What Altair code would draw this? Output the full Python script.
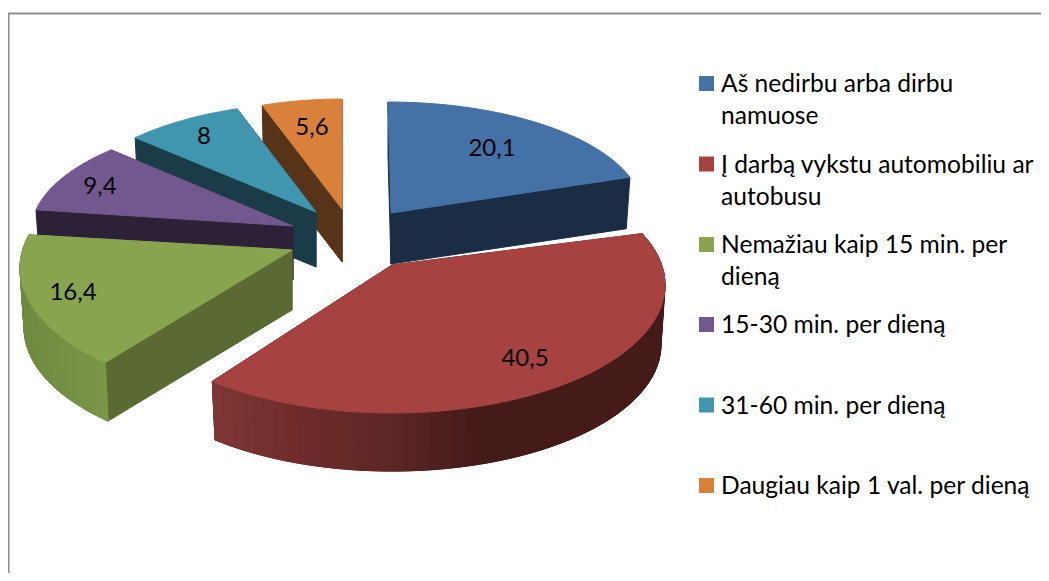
import math
import altair as alt
import pandas as pd

# --- chart values ---
categories = ["Aš nedirbu arba dirbu\nnamuose", "Į darbą vykstu automobiliu ar\nautobusu",
              "Nemažiau kaip 15 min. per\ndieną", "15-30 min. per dieną",
              "31-60 min. per dieną", "Daugiau kaip 1 val. per dieną"]
values = [20.1, 40.5, 16.4, 9.4, 8, 5.6]
value_labels = ["20,1", "40,5", "16,4", "9,4", "8", "5,6"]
top_colors = ["#4471A6", "#A64341", "#89A44E", "#72588E", "#4096AE", "#D9813B"]
face_colors = ["#1B2D45", "#451B19", "#5A6A32", "#2D2138", "#1A3C48", "#573317"]

# --- 3D layout of each slice (screen pixels) ---
apex = [(391, 213), (392, 265), (292, 250), (293, 226), (316, 212), (342, 209)]
centre = [(388, 212), (392, 285), (292, 268), (293, 232), (316, 226), (342, 229)]
radii = [(255, 110), (273, 128), (272, 130), (262, 114), (260, 123), (260, 130)]
skew = [(0, -0.8), (-6, 3), (5.2, 7.6), (4, 5), (4.9, 2.5), (2.3, 0)]
depth = [51, 60, 60, 54, 55, 53]
label_off = [(104, -63), (133, 74), (-219, 25), (-193, -45), (-112, -89), (-30, -101)]
shrink = 0.985
wall_stops = {1: [(214, "#7E3735"), (300, "#6F2D2C"), (400, "#5C2625"), (480, "#451B19"), (670, "#451B19")],
              2: [(20, "#6E8A40"), (110, "#7C9747")]}
draw_order = [5, 4, 3, 0, 2, 1]


def rgb(h):
    return [int(h[i:i + 2], 16) for i in (1, 3, 5)]


def wall_colour(stops, x):
    for (x0, c0), (x1, c1) in zip(stops, stops[1:]):
        if x <= x1:
            u = max(0, (x - x0) / (x1 - x0))
            return "#%02x%02x%02x" % tuple(round(a + (b - a) * u) for a, b in zip(rgb(c0), rgb(c1)))
    return stops[-1][1]


rows = []
fid = 0


def add_face(points, colour):
    global fid
    for i, (x, y) in enumerate(points + points[:1]):
        rows.append({"f": fid, "i": i, "px": x, "py": y, "c": colour})
    fid += 1


cum = [0]
for v in values:
    cum.append(cum[-1] + v * 3.6)

for s in draw_order:
    ax, ay = apex[s]
    cx, cy = centre[s]
    rx, ry = radii[s]
    h = depth[s]
    t0 = cum[s] + skew[s][0]
    t1 = cum[s + 1] + skew[s][1]
    n = 60

    def rim(t, k=1.0, dy=0):
        a = math.radians(t)
        return (cx + k * rx * math.sin(a), cy - k * ry * math.cos(a) + dy)

    ts = [t0 + (t1 - t0) * j / n for j in range(n + 1)]
    # radial faces
    for t in (t0, t1):
        add_face([(ax, ay), rim(t), rim(t, shrink, h), (ax, ay + h)], face_colors[s])
    # outer wall: one solid base, then the shaded bands over it
    if s in wall_stops:
        mid = wall_stops[s][len(wall_stops[s]) // 2][1]
        add_face([rim(t) for t in ts] + [rim(t, shrink, h) for t in reversed(ts)], mid)
        for a, b in zip(ts, ts[1:]):
            q = [rim(a), rim(b), rim(b, shrink, h), rim(a, shrink, h)]
            add_face(q, wall_colour(wall_stops[s], q[0][0]))
    # top
    add_face([(ax, ay)] + [rim(t) for t in ts], top_colors[s])

faces = pd.DataFrame(rows)
X = alt.Scale(domain=[8, 1041], range=[0, 1033])
Y = alt.Scale(domain=[8, 573], range=[0, 565])

pie = alt.Chart(faces).mark_line(strokeWidth=1, interpolate="linear").encode(
    x=alt.X("px:Q", scale=X, axis=None),
    y=alt.Y("py:Q", scale=Y, axis=None),
    detail="f:N",
    order=alt.Order("i:Q"),
    stroke=alt.Stroke("c:N", scale=None),
    fill=alt.Fill("c:N", scale=None),
)

lab_df = pd.DataFrame({"t": value_labels,
                       "px": [centre[i][0] + label_off[i][0] for i in range(6)],
                       "py": [centre[i][1] + label_off[i][1] for i in range(6)]})
value_text = alt.Chart(lab_df).mark_text(font="Lato", fontSize=24, color="#000000").encode(
    x=alt.X("px:Q", scale=X, axis=None), y=alt.Y("py:Q", scale=Y, axis=None), text="t:N")

# --- legend ---
legend_x = 706.5
legend_text_x = 721
legend_base = [91, 171.5, 252, 332, 412.5, 493]
line_gap = 32
leg_sq = pd.DataFrame({"px": [legend_x] * 6, "py": [b - 7.5 for b in legend_base], "c": top_colors})
squares = alt.Chart(leg_sq).mark_square(size=225, opacity=1).encode(
    x=alt.X("px:Q", scale=X, axis=None), y=alt.Y("py:Q", scale=Y, axis=None),
    fill=alt.Fill("c:N", scale=None))
leg_rows = []
for name, b in zip(categories, legend_base):
    for j, line in enumerate(name.split("\n")):
        leg_rows.append({"t": line, "px": legend_text_x, "py": b + 1 + j * line_gap})
legend_text = alt.Chart(pd.DataFrame(leg_rows)).mark_text(
    font="Lato", fontSize=24.6, align="left", baseline="alphabetic", color="#000000").encode(
    x=alt.X("px:Q", scale=X, axis=None), y=alt.Y("py:Q", scale=Y, axis=None), text="t:N")

# --- frame ---
frame_top = alt.Chart(pd.DataFrame({"py": [13.5]})).mark_rule(color="#8E8E8E", strokeWidth=2).encode(
    y=alt.Y("py:Q", scale=Y, axis=None), x=alt.value(0), x2=alt.value(1033))
frame_left = alt.Chart(pd.DataFrame({"px": [8.5]})).mark_rule(color="#8E8E8E", strokeWidth=2).encode(
    x=alt.X("px:Q", scale=X, axis=None), y=alt.value(5), y2=alt.value(565))

chart = alt.layer(frame_top, frame_left, pie, value_text, squares, legend_text).properties(
    width=1033, height=565, padding=0, autosize=alt.AutoSizeParams(type="none")
).configure_view(stroke=None)

chart.save("out.html", embed_options={"renderer": "svg", "actions": False})
